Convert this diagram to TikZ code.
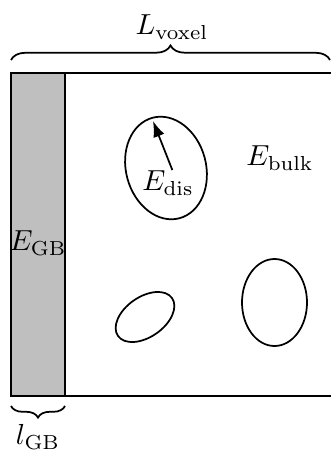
\documentclass[tikz,border=0pt]{standalone}
\usetikzlibrary{decorations.pathreplacing,arrows.meta}
\begin{document}
\begin{tikzpicture}[x=0.345pt,y=-0.345pt,line width=0.6pt,
  lbl/.style={inner sep=0pt},
  bracestyle/.style={decorate,line width=0.6pt}]
\useasboundingbox (0,0) rectangle (330,453);
% voxel outline (right edge lies outside the view)
\coordinate (vtr) at (331,73);
\coordinate (vtl) at (11,73);
\coordinate (vbl) at (11,396);
\coordinate (vbr) at (331,396);
\draw (vtr) -- (vtl) -- (vbl) -- (vbr);
% grain boundary strip
\coordinate (gbt) at (65,73);
\coordinate (gbb) at (65,396);
\filldraw[fill=gray!50] (vtl) rectangle (gbb);
% braces
\coordinate (b1s) at (11,60);
\coordinate (b1e) at (330,60);
\draw[bracestyle,decoration={brace,amplitude=5pt}] (b1s) -- (b1e);
\coordinate (b2s) at (65,406);
\coordinate (b2e) at (11,406);
\draw[bracestyle,decoration={brace,amplitude=4pt}] (b2s) -- (b2e);
% labels
\node[lbl] (lvox) at (172,27) {$L_{\mathrm{voxel}}$};
\node[lbl] (lgb) at (38,437) {$l_{\mathrm{GB}}$};
\node[lbl] (egb) at (38,243) {$E_{\mathrm{GB}}$};
\node[lbl] (ebulk) at (280,158) {$E_{\mathrm{bulk}}$};
\node[lbl] (edis) at (168,183) {$E_{\mathrm{dis}}$};
% defects
\draw[rotate around={15:(166,168)}] (166,168) ellipse [x radius=40, y radius=52];
\draw[rotate around={35:(145,317)}] (145,317) ellipse [x radius=33, y radius=20];
\draw (274.5,302.5) ellipse [x radius=32.5, y radius=43.5];
% arrow
\coordinate (atip) at (153,121);
\draw[-{Latex[length=5.5pt,width=4pt]}] ([xshift=1.5pt]edis.north) -- (atip);
\end{tikzpicture}
\end{document}
